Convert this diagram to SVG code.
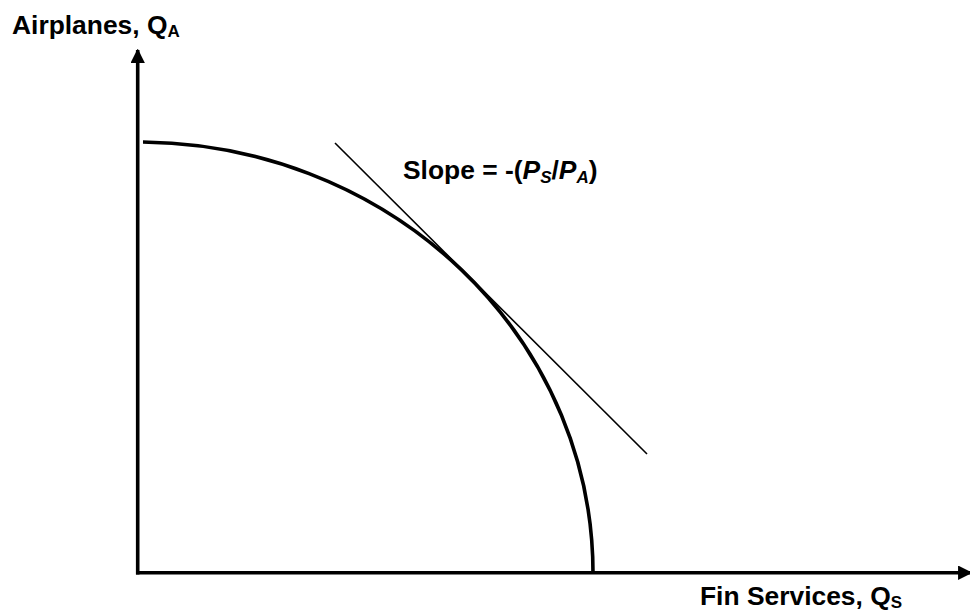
<svg xmlns="http://www.w3.org/2000/svg" width="970" height="613" viewBox="0 0 970 613">
<defs>
<style>
.t{font-family:"Liberation Sans",Arial,sans-serif;font-weight:bold;font-size:26.4px;fill:#000}
.sub{font-size:17px}
.ax{stroke:#000;stroke-width:3.6;fill:none}
</style>
<marker id="ah" viewBox="0 0 10 10" refX="9" refY="5" markerWidth="4" markerHeight="4" markerUnits="strokeWidth" orient="auto">
<path d="M0,0 L10,5 L0,10 z" fill="#000"/>
</marker>
</defs>
<rect width="970" height="613" fill="#fff"/>
<g id="connectors">
<line id="y-axis" class="ax" x1="137.7" y1="574.5" x2="137.7" y2="50" marker-end="url(#ah)"/>
<line id="x-axis" class="ax" x1="136" y1="572.7" x2="971" y2="572.7" marker-end="url(#ah)"/>
</g>
<g id="ppf">
<path d="M143,142 A455,431 0 0 1 593,573" fill="none" stroke="#000" stroke-width="3.6"/>
</g>
<g id="tangent">
<line x1="335" y1="143" x2="647" y2="454" stroke="#000" stroke-width="1.6"/>
</g>
<g id="label-y">
<text class="t" x="12" y="34">Airplanes, Q<tspan class="sub" dy="3">A</tspan></text>
</g>
<g id="label-slope">
<text class="t" x="403" y="179">Slope = -(<tspan font-style="italic">P</tspan><tspan class="sub" font-style="italic" dy="4">S</tspan><tspan dy="-4">/</tspan><tspan font-style="italic">P</tspan><tspan class="sub" font-style="italic" dy="4">A</tspan><tspan dy="-4">)</tspan></text>
</g>
<g id="label-x">
<text class="t" x="700" y="605">Fin Services, Q<tspan class="sub" dy="3">S</tspan></text>
</g>
</svg>
